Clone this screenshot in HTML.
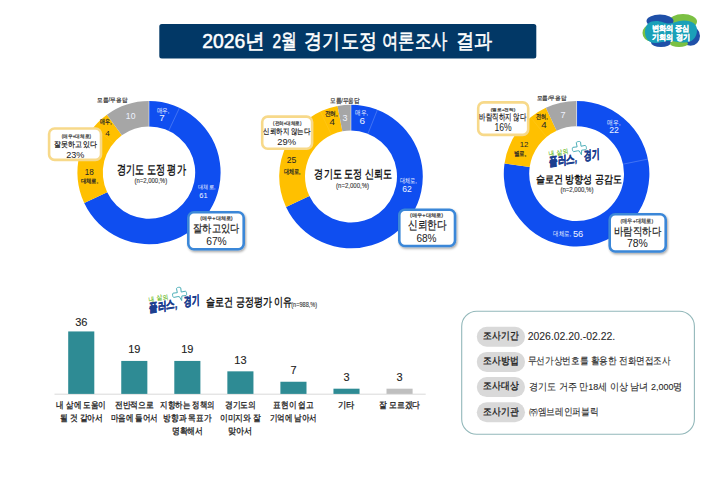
<!DOCTYPE html><html><head><meta charset="utf-8"><style>html,body{margin:0;padding:0;background:#fff;}svg{display:block;font-family:"Liberation Sans",sans-serif;}</style></head><body><svg width="719" height="488" viewBox="0 0 719 488" font-family="Liberation Sans, sans-serif">
<defs><filter id="sh" x="-20%" y="-20%" width="150%" height="150%"><feDropShadow dx="1" dy="1.5" stdDeviation="1" flood-color="#000" flood-opacity="0.35"/></filter></defs>
<rect width="719" height="488" fill="#fff"/>
<rect x="159.3" y="24" width="377" height="34.6" rx="2.5" fill="#023866"/>
<text x="202.28" y="47.8" font-size="20.5" fill="#fff" stroke="#fff" stroke-width="0.55" textLength="62.75" lengthAdjust="spacingAndGlyphs">2026년</text>
<text x="272.38" y="47.8" font-size="20.5" fill="#fff" stroke="#fff" stroke-width="0.55" textLength="24.55" lengthAdjust="spacingAndGlyphs">2월</text>
<text x="304.46" y="47.8" font-size="20.5" fill="#fff" stroke="#fff" stroke-width="0.55" textLength="72.17" lengthAdjust="spacingAndGlyphs">경기도정</text>
<text x="382.17" y="47.8" font-size="20.5" fill="#fff" stroke="#fff" stroke-width="0.55" textLength="65.27" lengthAdjust="spacingAndGlyphs">여론조사</text>
<text x="456.26" y="47.8" font-size="20.5" fill="#fff" stroke="#fff" stroke-width="0.55" textLength="36.37" lengthAdjust="spacingAndGlyphs">결과</text>
<path d="M149.00,101.00 A71.6,71.6 0 1 1 84.21,203.09 L107.20,192.27 A46.2,46.2 0 1 0 149.00,126.40 Z" fill="#0f4ef0"/>
<path d="M84.21,203.09 A71.6,71.6 0 0 1 106.91,114.67 L121.84,135.22 A46.2,46.2 0 0 0 107.20,192.27 Z" fill="#ffc000"/>
<path d="M106.91,114.67 A71.6,71.6 0 0 1 149.00,101.00 L149.00,126.40 A46.2,46.2 0 0 0 121.84,135.22 Z" fill="#a6a6a6"/>
<line x1="168.67" y1="130.80" x2="179.49" y2="107.81" stroke="rgba(255,255,255,0.35)" stroke-width="0.6"/>
<line x1="113.40" y1="143.15" x2="93.83" y2="126.96" stroke="rgba(255,255,255,0.12)" stroke-width="0.6"/>
<line x1="149.00" y1="126.40" x2="149.00" y2="101.00" stroke="rgba(255,255,255,0.6)" stroke-width="0.8"/>
<text x="97.36" y="101.91" font-size="6.28" fill="#404040" font-weight="normal" stroke="#404040" stroke-width="0.22" textLength="29.78" lengthAdjust="spacingAndGlyphs">모름/무응답</text>
<text x="125.88" y="118.80" font-size="8.43" fill="#eef2ff" font-weight="normal" textLength="9.54" lengthAdjust="spacingAndGlyphs">10</text>
<text x="156.64" y="112.87" font-size="6.63" fill="#eef2ff" font-weight="normal" textLength="12.63" lengthAdjust="spacingAndGlyphs">매우,</text>
<text x="159.18" y="120.90" font-size="8.43" fill="#eef2ff" font-weight="normal" textLength="5.44" lengthAdjust="spacingAndGlyphs">7</text>
<text x="198.08" y="189.35" font-size="5.93" fill="#eef2ff" font-weight="normal" textLength="17.33" lengthAdjust="spacingAndGlyphs">대체로,</text>
<text x="199.31" y="198.40" font-size="7.86" fill="#eef2ff" font-weight="normal" textLength="8.39" lengthAdjust="spacingAndGlyphs">61</text>
<text x="100.14" y="124.47" font-size="6.63" fill="#262626" font-weight="normal" stroke="#262626" stroke-width="0.22" textLength="11.53" lengthAdjust="spacingAndGlyphs">매우,</text>
<text x="105.24" y="135.60" font-size="7.14" fill="#262626" font-weight="normal" textLength="4.61" lengthAdjust="spacingAndGlyphs">4</text>
<text x="84.66" y="174.60" font-size="8.86" fill="#262626" font-weight="normal" textLength="9.09" lengthAdjust="spacingAndGlyphs">18</text>
<text x="80.57" y="183.32" font-size="6.16" fill="#262626" font-weight="normal" stroke="#262626" stroke-width="0.22" textLength="17.76" lengthAdjust="spacingAndGlyphs">대체로,</text>
<text x="116.91" y="174.11" font-size="12.67" fill="#1a1a1a" font-weight="bold" textLength="68.77" lengthAdjust="spacingAndGlyphs">경기도 도정 평가</text>
<text x="134.49" y="183.40" font-size="6.30" fill="#3a3a3a" font-weight="normal" stroke="#3a3a3a" stroke-width="0.12" textLength="32.63" lengthAdjust="spacingAndGlyphs">(n=2,000,%)</text>
<rect x="49.10" y="128.50" width="51.90" height="31.40" rx="5.5" fill="#fff" stroke="#f7d98a" stroke-width="2.6"/>
<text x="61.87" y="138.08" font-size="4.77" fill="#444" font-weight="normal" stroke="#444" stroke-width="0.22" textLength="29.07" lengthAdjust="spacingAndGlyphs">(매우+대체로)</text>
<text x="53.94" y="147.12" font-size="8.02" fill="#222" font-weight="normal" stroke="#222" stroke-width="0.22" textLength="43.32" lengthAdjust="spacingAndGlyphs">잘못하고 있다</text>
<text x="66.22" y="157.80" font-size="9.57" fill="#222" font-weight="normal" textLength="18.16" lengthAdjust="spacingAndGlyphs">23%</text>
<rect x="188.30" y="212.30" width="55.40" height="37.00" rx="5.5" fill="#fff" stroke="#3b87d8" stroke-width="2.6" filter="url(#sh)"/>
<text x="200.22" y="220.20" font-size="5.47" fill="#444" font-weight="normal" stroke="#444" stroke-width="0.22" textLength="32.47" lengthAdjust="spacingAndGlyphs">(매우+대체로)</text>
<text x="193.11" y="232.36" font-size="11.28" fill="#222" font-weight="normal" stroke="#222" stroke-width="0.22" textLength="46.08" lengthAdjust="spacingAndGlyphs">잘하고있다</text>
<text x="206.18" y="244.50" font-size="10.43" fill="#222" font-weight="normal" textLength="20.54" lengthAdjust="spacingAndGlyphs">67%</text>
<path d="M351.00,104.70 A71.8,71.8 0 1 1 286.03,207.07 L309.38,196.09 A46,46 0 1 0 351.00,130.50 Z" fill="#0f4ef0"/>
<path d="M286.03,207.07 A71.8,71.8 0 0 1 337.55,105.97 L342.38,131.31 A46,46 0 0 0 309.38,196.09 Z" fill="#ffc000"/>
<path d="M337.55,105.97 A71.8,71.8 0 0 1 351.00,104.70 L351.00,130.50 A46,46 0 0 0 342.38,131.31 Z" fill="#a6a6a6"/>
<line x1="367.93" y1="133.73" x2="377.43" y2="109.74" stroke="rgba(255,255,255,0.35)" stroke-width="0.6"/>
<line x1="331.41" y1="134.88" x2="320.43" y2="111.53" stroke="rgba(255,255,255,0.12)" stroke-width="0.6"/>
<line x1="351.00" y1="130.50" x2="351.00" y2="104.70" stroke="rgba(255,255,255,0.6)" stroke-width="0.8"/>
<text x="330.02" y="103.05" font-size="6.86" fill="#404040" font-weight="normal" stroke="#404040" stroke-width="0.22" textLength="29.66" lengthAdjust="spacingAndGlyphs">모름/무응답</text>
<text x="324.51" y="116.13" font-size="6.98" fill="#262626" font-weight="normal" stroke="#262626" stroke-width="0.22" textLength="13.08" lengthAdjust="spacingAndGlyphs">전혀,</text>
<text x="329.59" y="124.60" font-size="8.29" fill="#262626" font-weight="normal" textLength="5.43" lengthAdjust="spacingAndGlyphs">4</text>
<text x="342.55" y="120.50" font-size="9.00" fill="#eef2ff" font-weight="normal" textLength="5.00" lengthAdjust="spacingAndGlyphs">3</text>
<text x="355.44" y="115.38" font-size="6.51" fill="#eef2ff" font-weight="normal" textLength="12.61" lengthAdjust="spacingAndGlyphs">매우,</text>
<text x="359.59" y="124.20" font-size="8.29" fill="#eef2ff" font-weight="normal" textLength="5.53" lengthAdjust="spacingAndGlyphs">6</text>
<text x="286.66" y="163.40" font-size="8.86" fill="#262626" font-weight="normal" textLength="9.59" lengthAdjust="spacingAndGlyphs">25</text>
<text x="283.64" y="173.87" font-size="6.63" fill="#262626" font-weight="normal" stroke="#262626" stroke-width="0.22" textLength="16.83" lengthAdjust="spacingAndGlyphs">대체로,</text>
<text x="399.78" y="183.08" font-size="7.44" fill="#eef2ff" font-weight="normal" textLength="17.04" lengthAdjust="spacingAndGlyphs">대체로,</text>
<text x="402.36" y="192.30" font-size="8.86" fill="#eef2ff" font-weight="normal" textLength="9.49" lengthAdjust="spacingAndGlyphs">62</text>
<text x="314.48" y="178.31" font-size="11.74" fill="#1a1a1a" font-weight="bold" textLength="77.44" lengthAdjust="spacingAndGlyphs">경기도 도정 신뢰도</text>
<text x="336.08" y="187.50" font-size="6.30" fill="#3a3a3a" font-weight="normal" stroke="#3a3a3a" stroke-width="0.12" textLength="33.03" lengthAdjust="spacingAndGlyphs">(n=2,000,%)</text>
<rect x="262.20" y="116.60" width="49.90" height="32.10" rx="5.5" fill="#fff" stroke="#f7d98a" stroke-width="2.6"/>
<text x="273.07" y="125.28" font-size="4.77" fill="#444" font-weight="normal" stroke="#444" stroke-width="0.22" textLength="28.47" lengthAdjust="spacingAndGlyphs">(전혀+대체로)</text>
<text x="263.35" y="134.33" font-size="7.91" fill="#222" font-weight="normal" stroke="#222" stroke-width="0.22" textLength="46.71" lengthAdjust="spacingAndGlyphs">신뢰하지 않는다</text>
<text x="277.33" y="145.00" font-size="9.43" fill="#222" font-weight="normal" textLength="18.74" lengthAdjust="spacingAndGlyphs">29%</text>
<rect x="399.30" y="209.70" width="55.70" height="36.30" rx="5.5" fill="#fff" stroke="#3b87d8" stroke-width="2.6" filter="url(#sh)"/>
<text x="409.93" y="216.82" font-size="5.23" fill="#444" font-weight="normal" stroke="#444" stroke-width="0.22" textLength="33.23" lengthAdjust="spacingAndGlyphs">(매우+대체로)</text>
<text x="408.19" y="229.02" font-size="11.63" fill="#222" font-weight="normal" stroke="#222" stroke-width="0.22" textLength="38.53" lengthAdjust="spacingAndGlyphs">신뢰한다</text>
<text x="416.47" y="241.80" font-size="10.57" fill="#222" font-weight="normal" textLength="20.06" lengthAdjust="spacingAndGlyphs">68%</text>
<path d="M576.60,100.90 A72.8,72.8 0 1 1 504.51,163.54 L529.66,167.09 A47.4,47.4 0 1 0 576.60,126.30 Z" fill="#0f4ef0"/>
<path d="M504.51,163.54 A72.8,72.8 0 0 1 545.89,107.69 L556.61,130.72 A47.4,47.4 0 0 0 529.66,167.09 Z" fill="#ffc000"/>
<path d="M545.89,107.69 A72.8,72.8 0 0 1 576.60,100.90 L576.60,126.30 A47.4,47.4 0 0 0 556.61,130.72 Z" fill="#a6a6a6"/>
<line x1="623.03" y1="164.18" x2="647.92" y2="159.08" stroke="rgba(255,255,255,0.35)" stroke-width="0.6"/>
<line x1="546.64" y1="136.97" x2="530.58" y2="117.29" stroke="rgba(255,255,255,0.12)" stroke-width="0.6"/>
<line x1="576.60" y1="126.30" x2="576.60" y2="100.90" stroke="rgba(255,255,255,0.6)" stroke-width="0.8"/>
<text x="536.67" y="100.42" font-size="6.16" fill="#404040" font-weight="normal" stroke="#404040" stroke-width="0.22" textLength="29.66" lengthAdjust="spacingAndGlyphs">모름/무응답</text>
<text x="535.81" y="119.03" font-size="6.98" fill="#262626" font-weight="normal" stroke="#262626" stroke-width="0.22" textLength="11.78" lengthAdjust="spacingAndGlyphs">전혀,</text>
<text x="541.28" y="128.00" font-size="8.43" fill="#262626" font-weight="normal" textLength="5.44" lengthAdjust="spacingAndGlyphs">4</text>
<text x="560.48" y="118.00" font-size="8.43" fill="#eef2ff" font-weight="normal" textLength="5.04" lengthAdjust="spacingAndGlyphs">7</text>
<text x="607.44" y="124.88" font-size="6.51" fill="#eef2ff" font-weight="normal" textLength="13.01" lengthAdjust="spacingAndGlyphs">매우,</text>
<text x="609.18" y="133.00" font-size="8.43" fill="#eef2ff" font-weight="normal" textLength="9.64" lengthAdjust="spacingAndGlyphs">22</text>
<text x="519.71" y="147.00" font-size="7.71" fill="#262626" font-weight="normal" textLength="8.77" lengthAdjust="spacingAndGlyphs">12</text>
<text x="513.54" y="156.07" font-size="6.63" fill="#262626" font-weight="normal" stroke="#262626" stroke-width="0.22" textLength="12.63" lengthAdjust="spacingAndGlyphs">별로,</text>
<text x="553.44" y="235.57" font-size="6.63" fill="#eef2ff" font-weight="normal" textLength="17.63" lengthAdjust="spacingAndGlyphs">대체로,</text>
<text x="572.92" y="236.70" font-size="9.57" fill="#eef2ff" font-weight="normal" textLength="10.36" lengthAdjust="spacingAndGlyphs">56</text>
<text x="535.71" y="182.96" font-size="11.28" fill="#1a1a1a" font-weight="bold" textLength="86.18" lengthAdjust="spacingAndGlyphs">슬로건 방향성 공감도</text>
<text x="560.48" y="191.90" font-size="6.30" fill="#3a3a3a" font-weight="normal" stroke="#3a3a3a" stroke-width="0.12" textLength="32.93" lengthAdjust="spacingAndGlyphs">(n=2,000,%)</text>
<rect x="478.20" y="102.40" width="50.00" height="32.50" rx="5.5" fill="#fff" stroke="#f7d98a" stroke-width="2.6"/>
<text x="490.82" y="110.85" font-size="4.07" fill="#444" font-weight="normal" stroke="#444" stroke-width="0.22" textLength="24.47" lengthAdjust="spacingAndGlyphs">(별로+전혀)</text>
<text x="479.40" y="120.35" font-size="8.60" fill="#222" font-weight="normal" stroke="#222" stroke-width="0.22" textLength="46.80" lengthAdjust="spacingAndGlyphs">바람직하지 않다</text>
<text x="494.49" y="130.60" font-size="10.29" fill="#222" font-weight="normal" textLength="17.23" lengthAdjust="spacingAndGlyphs">16%</text>
<rect x="609.70" y="214.20" width="56.00" height="37.30" rx="5.5" fill="#fff" stroke="#3b87d8" stroke-width="2.6" filter="url(#sh)"/>
<text x="620.48" y="222.85" font-size="5.93" fill="#444" font-weight="normal" stroke="#444" stroke-width="0.22" textLength="32.73" lengthAdjust="spacingAndGlyphs">(매우+대체로)</text>
<text x="613.93" y="234.60" font-size="10.93" fill="#222" font-weight="normal" stroke="#222" stroke-width="0.22" textLength="47.03" lengthAdjust="spacingAndGlyphs">바람직하다</text>
<text x="627.03" y="247.30" font-size="11.43" fill="#222" font-weight="normal" textLength="20.84" lengthAdjust="spacingAndGlyphs">78%</text>
<g transform="translate(549,167) rotate(-9)">
<g transform="translate(32.9,-13.5) scale(0.9)"><path d="M-2.4,-6.8 C-2.4,-8.2 2.4,-8.2 2.4,-6.8 L2.2,-2.2 L6.8,-2.4 C8.2,-2.4 8.2,2.4 6.8,2.4 L2.2,2.2 L1.2,7.2 L-0.6,2.6 L-2.2,2.2 L-6.8,2.4 C-8.2,2.4 -8.2,-2.4 -6.8,-2.4 L-2.2,-2.2 Z" fill="none" stroke="#45aab5" stroke-width="1" stroke-linejoin="round"/></g>
<text x="2.0" y="-11.0" font-size="6.6" fill="#7cc242" font-weight="bold" textLength="19.5" lengthAdjust="spacingAndGlyphs">내 삶의</text>
<text x="0" y="-0.6" font-size="12" fill="#1d3f8f" stroke="#1d3f8f" stroke-width="0.5" font-weight="bold" transform="skewX(-8)" textLength="28.5" lengthAdjust="spacingAndGlyphs">플러스,</text>
<text x="35.5" y="-1.2" font-size="12.5" fill="#1d3f8f" stroke="#1d3f8f" stroke-width="0.5" font-weight="bold" transform="skewX(-8)" textLength="16" lengthAdjust="spacingAndGlyphs">경기</text>
</g>
<g transform="translate(149.2,312.8) rotate(-9)">
<g transform="translate(32.9,-13.5) scale(0.9)"><path d="M-2.4,-6.8 C-2.4,-8.2 2.4,-8.2 2.4,-6.8 L2.2,-2.2 L6.8,-2.4 C8.2,-2.4 8.2,2.4 6.8,2.4 L2.2,2.2 L1.2,7.2 L-0.6,2.6 L-2.2,2.2 L-6.8,2.4 C-8.2,2.4 -8.2,-2.4 -6.8,-2.4 L-2.2,-2.2 Z" fill="none" stroke="#45aab5" stroke-width="1" stroke-linejoin="round"/></g>
<text x="2.0" y="-11.0" font-size="6.6" fill="#7cc242" font-weight="bold" textLength="19.5" lengthAdjust="spacingAndGlyphs">내 삶의</text>
<text x="0" y="-0.6" font-size="12" fill="#1d3f8f" stroke="#1d3f8f" stroke-width="0.5" font-weight="bold" transform="skewX(-8)" textLength="28.5" lengthAdjust="spacingAndGlyphs">플러스,</text>
<text x="35.5" y="-1.2" font-size="12.5" fill="#1d3f8f" stroke="#1d3f8f" stroke-width="0.5" font-weight="bold" transform="skewX(-8)" textLength="16" lengthAdjust="spacingAndGlyphs">경기</text>
</g>
<text x="206.18" y="306.31" font-size="11.74" fill="#1a1a1a" font-weight="bold" textLength="85.74" lengthAdjust="spacingAndGlyphs">슬로건 긍정평가 이유</text>
<text x="291.17" y="306.90" font-size="6.60" fill="#3a3a3a" font-weight="normal" stroke="#3a3a3a" stroke-width="0.12" textLength="26.06" lengthAdjust="spacingAndGlyphs">(n=988,%)</text>
<line x1="54.5" y1="394.2" x2="425.7" y2="394.2" stroke="#d9d9d9" stroke-width="1"/>
<rect x="68.20" y="331.44" width="26.1" height="62.46" fill="#2e8b94"/>
<text x="81.25" y="325.74" font-size="11" fill="#222" stroke="#222" stroke-width="0.12" text-anchor="middle">36</text>
<rect x="121.25" y="360.93" width="26.1" height="32.97" fill="#2e8b94"/>
<text x="134.30" y="353.23" font-size="11" fill="#222" stroke="#222" stroke-width="0.12" text-anchor="middle">19</text>
<rect x="174.30" y="360.93" width="26.1" height="32.97" fill="#2e8b94"/>
<text x="187.35" y="353.23" font-size="11" fill="#222" stroke="#222" stroke-width="0.12" text-anchor="middle">19</text>
<rect x="227.35" y="371.34" width="26.1" height="22.55" fill="#2e8b94"/>
<text x="240.40" y="363.64" font-size="11" fill="#222" stroke="#222" stroke-width="0.12" text-anchor="middle">13</text>
<rect x="280.40" y="381.75" width="26.1" height="12.15" fill="#2e8b94"/>
<text x="293.45" y="374.06" font-size="11" fill="#222" stroke="#222" stroke-width="0.12" text-anchor="middle">7</text>
<rect x="333.45" y="388.69" width="26.1" height="5.21" fill="#2e8b94"/>
<text x="346.50" y="381.00" font-size="11" fill="#222" stroke="#222" stroke-width="0.12" text-anchor="middle">3</text>
<rect x="386.50" y="388.69" width="26.1" height="5.21" fill="#bfbfbf"/>
<text x="399.55" y="381.00" font-size="11" fill="#222" stroke="#222" stroke-width="0.12" text-anchor="middle">3</text>
<text x="56.42" y="407.82" font-size="8.95" fill="#222" font-weight="normal" stroke="#222" stroke-width="0.3" textLength="49.65" lengthAdjust="spacingAndGlyphs">내 삶에 도움이</text>
<text x="59.77" y="420.82" font-size="8.95" fill="#222" font-weight="normal" stroke="#222" stroke-width="0.3" textLength="42.95" lengthAdjust="spacingAndGlyphs">될 것 같아서</text>
<text x="114.92" y="407.82" font-size="8.95" fill="#222" font-weight="normal" stroke="#222" stroke-width="0.3" textLength="38.75" lengthAdjust="spacingAndGlyphs">전반적으로</text>
<text x="110.72" y="420.82" font-size="8.95" fill="#222" font-weight="normal" stroke="#222" stroke-width="0.3" textLength="47.15" lengthAdjust="spacingAndGlyphs">마음에 들어서</text>
<text x="160.32" y="407.82" font-size="8.95" fill="#222" font-weight="normal" stroke="#222" stroke-width="0.3" textLength="54.05" lengthAdjust="spacingAndGlyphs">지향하는 정책의</text>
<text x="163.42" y="420.82" font-size="8.95" fill="#222" font-weight="normal" stroke="#222" stroke-width="0.3" textLength="47.85" lengthAdjust="spacingAndGlyphs">방향과 목표가</text>
<text x="171.82" y="433.82" font-size="8.95" fill="#222" font-weight="normal" stroke="#222" stroke-width="0.3" textLength="31.05" lengthAdjust="spacingAndGlyphs">명확해서</text>
<text x="224.87" y="407.82" font-size="8.95" fill="#222" font-weight="normal" stroke="#222" stroke-width="0.3" textLength="31.05" lengthAdjust="spacingAndGlyphs">경기도의</text>
<text x="219.87" y="420.82" font-size="8.95" fill="#222" font-weight="normal" stroke="#222" stroke-width="0.3" textLength="41.05" lengthAdjust="spacingAndGlyphs">이미지와 잘</text>
<text x="228.27" y="433.82" font-size="8.95" fill="#222" font-weight="normal" stroke="#222" stroke-width="0.3" textLength="24.25" lengthAdjust="spacingAndGlyphs">맞아서</text>
<text x="273.32" y="407.82" font-size="8.95" fill="#222" font-weight="normal" stroke="#222" stroke-width="0.3" textLength="40.25" lengthAdjust="spacingAndGlyphs">표현이 쉽고</text>
<text x="269.87" y="420.82" font-size="8.95" fill="#222" font-weight="normal" stroke="#222" stroke-width="0.3" textLength="47.15" lengthAdjust="spacingAndGlyphs">기억에 남아서</text>
<text x="338.22" y="407.82" font-size="8.95" fill="#222" font-weight="normal" stroke="#222" stroke-width="0.3" textLength="16.55" lengthAdjust="spacingAndGlyphs">기타</text>
<text x="379.02" y="407.82" font-size="8.95" fill="#222" font-weight="normal" stroke="#222" stroke-width="0.3" textLength="41.05" lengthAdjust="spacingAndGlyphs">잘 모르겠다</text>
<rect x="461.7" y="311.3" width="232.7" height="123" rx="15" fill="#fff" stroke="#93b8ba" stroke-width="1.1"/>
<rect x="476.8" y="326.70" width="48.2" height="20" rx="10" fill="#d9d9d9"/>
<text x="483.18" y="339.07" font-size="10.23" fill="#1a1a1a" font-weight="normal" stroke="#1a1a1a" stroke-width="0.32" textLength="35.23" lengthAdjust="spacingAndGlyphs">조사기간</text>
<text x="527.76" y="340.30" font-size="10.80" fill="#2a2a2a" font-weight="normal" stroke="#2a2a2a" stroke-width="0.1" textLength="87.38" lengthAdjust="spacingAndGlyphs">2026.02.20.-02.22.</text>
<rect x="476.8" y="351.90" width="48.2" height="20" rx="10" fill="#d9d9d9"/>
<text x="483.18" y="364.27" font-size="10.23" fill="#1a1a1a" font-weight="normal" stroke="#1a1a1a" stroke-width="0.32" textLength="35.23" lengthAdjust="spacingAndGlyphs">조사방법</text>
<text x="527.61" y="364.41" font-size="9.88" fill="#2a2a2a" font-weight="normal" stroke="#2a2a2a" stroke-width="0.1" textLength="143.18" lengthAdjust="spacingAndGlyphs">무선가상번호를 활용한 전화면접조사</text>
<rect x="476.8" y="377.10" width="48.2" height="20" rx="10" fill="#d9d9d9"/>
<text x="483.18" y="389.47" font-size="10.23" fill="#1a1a1a" font-weight="normal" stroke="#1a1a1a" stroke-width="0.32" textLength="35.23" lengthAdjust="spacingAndGlyphs">조사대상</text>
<text x="528.81" y="389.61" font-size="9.88" fill="#2a2a2a" font-weight="normal" stroke="#2a2a2a" stroke-width="0.1" textLength="153.78" lengthAdjust="spacingAndGlyphs">경기도 거주 만18세 이상 남녀 2,000명</text>
<rect x="476.8" y="402.30" width="48.2" height="20" rx="10" fill="#d9d9d9"/>
<text x="483.18" y="414.67" font-size="10.23" fill="#1a1a1a" font-weight="normal" stroke="#1a1a1a" stroke-width="0.32" textLength="35.23" lengthAdjust="spacingAndGlyphs">조사기관</text>
<text x="528.81" y="414.81" font-size="9.88" fill="#2a2a2a" font-weight="normal" stroke="#2a2a2a" stroke-width="0.1" textLength="69.88" lengthAdjust="spacingAndGlyphs">㈜엠브레인퍼블릭</text>
<g>
<ellipse cx="683" cy="21.5" rx="14" ry="7.5" fill="#7bc043"/>
<ellipse cx="651" cy="33" rx="8.5" ry="8.5" fill="#7bc043"/>
<ellipse cx="660" cy="21" rx="13.5" ry="6.5" fill="#1f50a8"/>
<ellipse cx="690.5" cy="36" rx="9.5" ry="9.8" fill="#1f50a8"/>
<ellipse cx="661" cy="42.5" rx="10" ry="4.5" fill="#1f50a8"/>
<ellipse cx="679" cy="43.5" rx="9" ry="3.6" fill="#7bc043"/>
<path d="M645,32 C645,24 650,21 656,21 C662,21 664,23.5 669,23.5 C674,23.5 677,20.5 684,20.5 C692,20.5 697,24 697,30 C697,38 692,42.5 684,42.5 C678,42.5 675,41 669,41 C663,41 661,43 655,43 C649,43 645,39 645,32 Z" fill="#1aa0b8"/>
</g>
<text x="651.66" y="31.36" font-size="7.67" fill="#fff" font-weight="bold" stroke="#fff" stroke-width="0.25" textLength="38.07" lengthAdjust="spacingAndGlyphs">변화의 중심</text>
<text x="652.13" y="40.10" font-size="8.14" fill="#fff" font-weight="bold" stroke="#fff" stroke-width="0.25" textLength="37.64" lengthAdjust="spacingAndGlyphs">기회의 경기</text>
</svg></body></html>
